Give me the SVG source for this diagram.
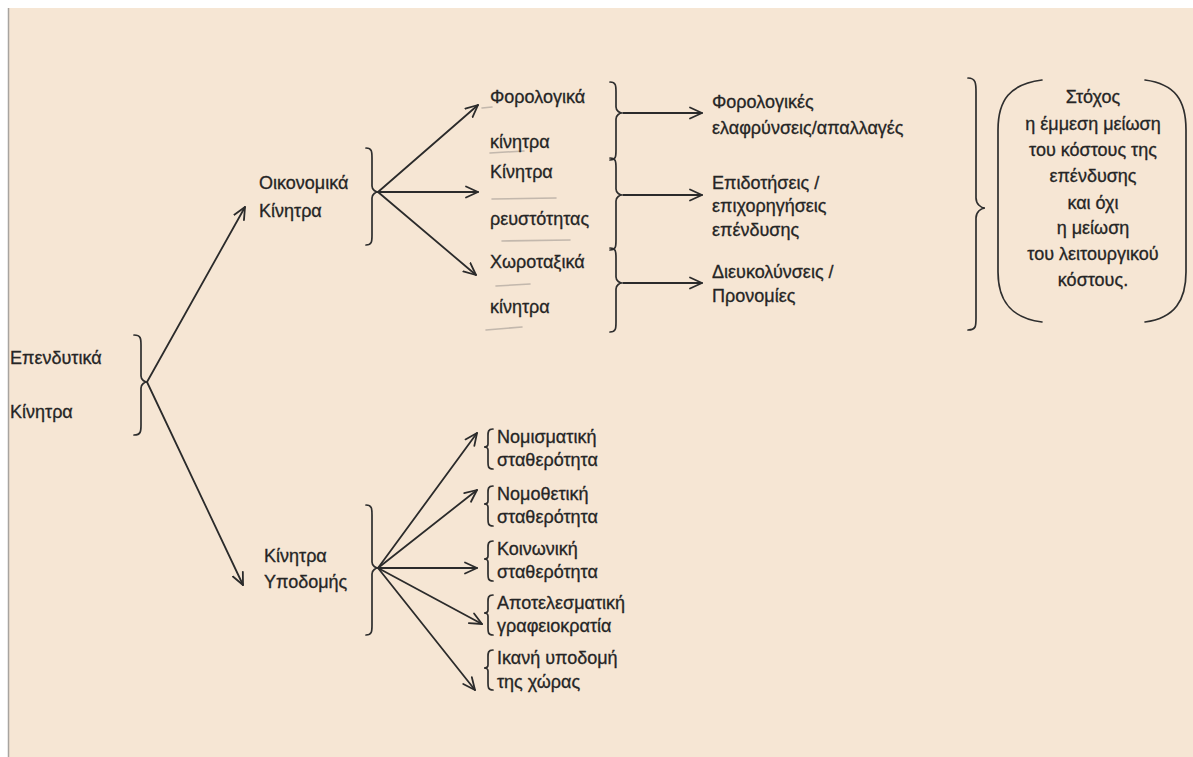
<svg xmlns="http://www.w3.org/2000/svg" width="1193" height="757" viewBox="0 0 1193 757">
<style>
.t{font-family:"Liberation Sans",Arial,sans-serif;font-size:18px;fill:#252525;stroke:#252525;stroke-width:0.3}
.c{text-anchor:middle}
.ln{stroke:#2b2b2b;stroke-width:1.8;fill:none;stroke-linecap:round;stroke-linejoin:round}
.br{stroke:#2e2e2e;stroke-width:1.7;fill:none;stroke-linecap:round}
.pen{stroke:#8f8a85;stroke-width:1.6;fill:none;opacity:0.5;stroke-linecap:round}
</style>
<defs>
<marker id="ah" viewBox="0 0 14 14" refX="13" refY="7" markerWidth="14" markerHeight="14" markerUnits="userSpaceOnUse" orient="auto">
<path d="M1,1.5 L13,7 L1,12.5" fill="none" stroke="#2b2b2b" stroke-width="1.8" stroke-linecap="round" stroke-linejoin="round"/>
</marker>
</defs>
<rect x="0" y="0" width="1193" height="757" fill="#ffffff"/>
<rect x="8" y="8" width="1185" height="749" fill="#f6e6d4"/>
<line x1="8.5" y1="8" x2="8.5" y2="757" stroke="#a8a4a0" stroke-width="1.5"/>

<g id="connectors">
<path class="ln" d="M147,382 L245,207" marker-end="url(#ah)"/>
<path class="ln" d="M147,382 L243,585" marker-end="url(#ah)"/>
<path class="ln" d="M378,192 L478,105" marker-end="url(#ah)"/>
<path class="ln" d="M378,192 L478,192" marker-end="url(#ah)"/>
<path class="ln" d="M378,192 L476,275" marker-end="url(#ah)"/>
<path class="ln" d="M623,113 L702,113" marker-end="url(#ah)"/>
<path class="ln" d="M623,195 L702,195" marker-end="url(#ah)"/>
<path class="ln" d="M623,283 L702,283" marker-end="url(#ah)"/>
<path class="ln" d="M378,568 L477,433" marker-end="url(#ah)"/>
<path class="ln" d="M378,568 L477,490" marker-end="url(#ah)"/>
<path class="ln" d="M378,568 L477,568" marker-end="url(#ah)"/>
<path class="ln" d="M378,568 L482,624" marker-end="url(#ah)"/>
<path class="ln" d="M378,568 L475,690" marker-end="url(#ah)"/>
</g>

<g id="pencil-marks">
<path class="pen" d="M482,108 L492,107"/>
<path class="pen" d="M490,153 L524,151"/>
<path class="pen" d="M492,199 L556,198"/>
<path class="pen" d="M502,241 L570,240"/>
<path class="pen" d="M496,286 L530,284"/>
<path class="pen" d="M486,330 L522,327"/>
</g>

<g id="node-root">
<text class="t" x="10" y="364">Επενδυτικά</text>
<text class="t" x="10" y="418">Κίνητρα</text>
<path class="br" d="M134,335 C141,335 141,339 141,345 L141,376 C141,380 145,382 147,382 C145,382 141,384 141,388 L141,425 C141,431 141,435 134,435"/>
</g>

<g id="node-oikonomika">
<text class="t" x="259" y="189">Οικονομικά</text>
<text class="t" x="259" y="217">Κίνητρα</text>
<path class="br" d="M366,148 C372,148 372,152 372,158 L372,186 C372,190 376,192 378,192 C376,192 372,194 372,198 L372,235 C372,241 372,245 366,245"/>
</g>

<g id="node-forologika">
<text class="t" x="490" y="103">Φορολογικά</text>
<text class="t" x="490" y="148">κίνητρα</text>
<path class="br" d="M610,82 C616,82 616,86 616,92 L616,107 C616,111 620,113 622,113 C620,113 616,115 616,119 L616,150 C616,156 616,160 610,160"/>
</g>

<g id="node-reustotitas">
<text class="t" x="490" y="178">Κίνητρα</text>
<text class="t" x="490" y="225">ρευστότητας</text>
<path class="br" d="M610,158 C616,158 616,162 616,168 L616,189 C616,193 620,195 622,195 C620,195 616,197 616,201 L616,240 C616,246 616,250 610,250"/>
</g>

<g id="node-xorotaxika">
<text class="t" x="490" y="268">Χωροταξικά</text>
<text class="t" x="490" y="313">κίνητρα</text>
<path class="br" d="M610,248 C616,248 616,252 616,258 L616,277 C616,281 620,283 622,283 C620,283 616,285 616,289 L616,322 C616,328 616,332 610,332"/>
</g>

<g id="node-elafrynseis">
<text class="t" x="712" y="108">Φορολογικές</text>
<text class="t" x="712" y="134">ελαφρύνσεις/απαλλαγές</text>
</g>

<g id="node-epidotiseis">
<text class="t" x="712" y="189">Επιδοτήσεις /</text>
<text class="t" x="712" y="212">επιχορηγήσεις</text>
<text class="t" x="712" y="236">επένδυσης</text>
</g>

<g id="node-diefkolynseis">
<text class="t" x="712" y="278">Διευκολύνσεις /</text>
<text class="t" x="712" y="302">Προνομίες</text>
</g>

<g id="node-stoxos">
<path class="br" d="M968,78 C976,78 976,84 976,92 L976,198 C976,204 981,208 985,208 C981,208 976,212 976,218 L976,318 C976,326 976,330 968,330"/>
<path class="br" d="M1042,80 C1010,84 998,100 998,130 L998,272 C998,300 1010,318 1042,322"/>
<path class="br" d="M1145,80 C1175,84 1186,100 1186,130 L1186,272 C1186,300 1175,318 1145,322"/>
<text class="t c" x="1093" y="103">Στόχος</text>
<text class="t c" x="1093" y="130">η έμμεση μείωση</text>
<text class="t c" x="1093" y="156">του κόστους της</text>
<text class="t c" x="1093" y="182">επένδυσης</text>
<text class="t c" x="1093" y="209">και όχι</text>
<text class="t c" x="1093" y="234">η μείωση</text>
<text class="t c" x="1093" y="260">του λειτουργικού</text>
<text class="t c" x="1093" y="286">κόστους.</text>
</g>

<g id="node-ypodomis">
<text class="t" x="264" y="562">Κίνητρα</text>
<text class="t" x="264" y="588">Υποδομής</text>
<path class="br" d="M366,505 C372,505 372,509 372,515 L372,562 C372,566 376,568 378,568 C376,568 372,570 372,574 L372,625 C372,631 372,635 366,635"/>
</g>

<g id="node-nomismatiki">
<path class="br" d="M493,429 C488,429 488,432 488,436 L488,444 C488,446 486,447 484,447 C486,447 488,448 488,450 L488,462 C488,466 488,469 493,469"/>
<text class="t" x="497" y="443">Νομισματική</text>
<text class="t" x="497" y="466">σταθερότητα</text>
</g>

<g id="node-nomothetiki">
<path class="br" d="M493,486 C488,486 488,489 488,493 L488,501 C488,503 486,504 484,504 C486,504 488,505 488,507 L488,519 C488,523 488,526 493,526"/>
<text class="t" x="497" y="500">Νομοθετική</text>
<text class="t" x="497" y="523">σταθερότητα</text>
</g>

<g id="node-koinoniki">
<path class="br" d="M493,541 C488,541 488,544 488,548 L488,556 C488,558 486,559 484,559 C486,559 488,560 488,562 L488,574 C488,578 488,581 493,581"/>
<text class="t" x="497" y="555">Κοινωνική</text>
<text class="t" x="497" y="578">σταθερότητα</text>
</g>

<g id="node-apotelesmatiki">
<path class="br" d="M493,595 C488,595 488,598 488,602 L488,610 C488,612 486,613 484,613 C486,613 488,614 488,616 L488,628 C488,632 488,635 493,635"/>
<text class="t" x="497" y="609">Αποτελεσματική</text>
<text class="t" x="497" y="632">γραφειοκρατία</text>
</g>

<g id="node-ikani">
<path class="br" d="M493,650 C488,650 488,653 488,657 L488,665 C488,667 486,668 484,668 C486,668 488,669 488,671 L488,683 C488,687 488,690 493,690"/>
<text class="t" x="497" y="664">Ικανή υποδομή</text>
<text class="t" x="497" y="688">της χώρας</text>
</g>
</svg>
